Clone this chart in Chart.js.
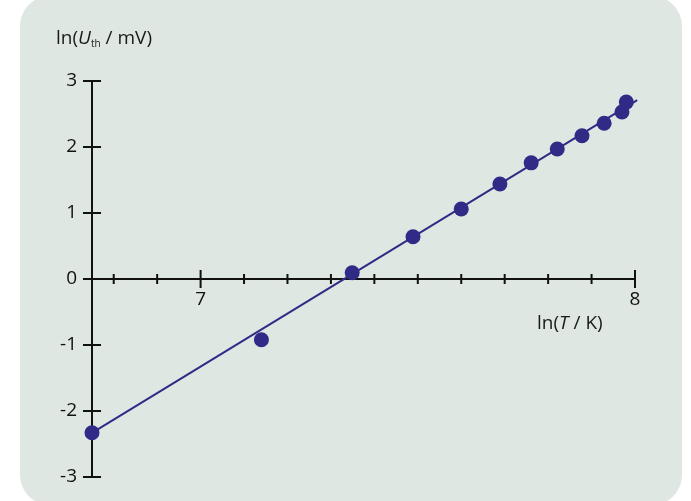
<!DOCTYPE html>
<html>
<head>
<meta charset="utf-8">
<script src="https://cdn.jsdelivr.net/npm/chart.js@4.4.1/dist/chart.umd.min.js"></script>
<style>
  body { margin: 0; background: #fff; font-family: "Open Sans", sans-serif; }
  #wrap { position: relative; width: 691px; height: 501px; overflow: hidden; }
  #panel {
    position: absolute; left: 20px; top: -4px; width: 662px; height: 509px;
    background: #dee7e2; border-radius: 30px;
  }
  #plot { position: absolute; left: 0; top: 0; }
  .axis-title { position: absolute; font-size: 19px; color: #1a1a1a; white-space: nowrap; line-height: 1; }
  .axis-title sub { font-size: 10px; vertical-align: -3px; }
  #ytitle { left: 56px; top: 28px; }
  #xtitle { left: 537px; top: 313px; }
</style>
</head>
<body>
<div id="wrap">
  <div id="panel"></div>
  <canvas id="plot" width="691" height="501"></canvas>
  <div class="axis-title" id="ytitle">ln(<i>U</i><sub>th</sub> / mV)</div>
  <div class="axis-title" id="xtitle">ln(<i>T</i> / K)</div>
</div>
<script>
// measured points: ln(T / K) against ln(U_th / mV)
const lnT = [6.75, 7.14, 7.349, 7.489, 7.60, 7.689, 7.761, 7.821, 7.878, 7.929, 7.970, 7.980];
const lnU = [-2.33, -0.92, 0.095, 0.64, 1.06, 1.44, 1.76, 1.97, 2.17, 2.36, 2.53, 2.68];

// straight-line fit, end points
const fitX = [6.75, 8.005];
const fitY = [-2.33, 2.71];

const xLabelTicks = [7, 8];
const yLabelTicks = [-3, -2, -1, 0, 1, 2, 3];
const xMin = 6.75, xMax = 8;
const yMin = -3, yMax = 3;

const ink = '#111';
const dotColor = '#2f2b86';

/** Draws the crossing axes with their tick marks at the data origin */
const crossAxes = {
  id: 'crossAxes',
  beforeDatasetsDraw(chart) {
    const { ctx, scales: { x, y } } = chart;
    const x0 = x.getPixelForValue(xMin);
    const y0 = y.getPixelForValue(0);
    ctx.save();
    ctx.strokeStyle = ink;
    ctx.lineWidth = 2;
    ctx.beginPath();
    // vertical axis
    ctx.moveTo(x0, y.getPixelForValue(yMax));
    ctx.lineTo(x0, y.getPixelForValue(yMin));
    // horizontal axis
    ctx.moveTo(x0, y0);
    ctx.lineTo(x.getPixelForValue(xMax), y0);
    yLabelTicks.forEach(v => {
      const py = y.getPixelForValue(v);
      ctx.moveTo(x0 - 9, py);
      ctx.lineTo(x0 + 9, py);
    });
    // minor ticks every 0.1, long ones at the whole numbers
    for (let i = 68; i <= 80; i++) {
      const v = i / 10;
      const px = x.getPixelForValue(v);
      const len = (i % 10 === 0) ? 9 : 5;
      ctx.moveTo(px, y0 - len);
      ctx.lineTo(px, y0 + len);
    }
    ctx.stroke();
    ctx.restore();
  }
};

const font = { family: '"Open Sans", sans-serif', size: 19 };

new Chart(document.getElementById('plot'), {
  type: 'scatter',
  data: {
    datasets: [
      {
        type: 'line',
        data: fitX.map((v, i) => ({ x: v, y: fitY[i] })),
        borderColor: dotColor,
        borderWidth: 2,
        pointRadius: 0,
        clip: false
      },
      {
        data: lnT.map((v, i) => ({ x: v, y: lnU[i] })),
        backgroundColor: dotColor,
        borderWidth: 0,
        pointRadius: 7.5,
        clip: false
      }
    ]
  },
  options: {
    responsive: false,
    animation: false,
    layout: { padding: { left: 0, right: 56, top: 81, bottom: 24 } },
    plugins: { legend: { display: false }, tooltip: { enabled: false } },
    scales: {
      x: {
        type: 'linear',
        min: xMin,
        max: xMax,
        position: { y: 0 },
        border: { display: false },
        grid: { display: false, drawTicks: false },
        afterBuildTicks: s => { s.ticks = xLabelTicks.map(v => ({ value: v })); },
        ticks: { color: ink, font, padding: 9, maxRotation: 0, autoSkip: false }
      },
      y: {
        type: 'linear',
        min: yMin,
        max: yMax,
        position: 'left',
        border: { display: false },
        grid: { display: false, drawTicks: false },
        afterBuildTicks: s => { s.ticks = yLabelTicks.map(v => ({ value: v })); },
        // fixed gutter; the end labels should not push the plot area in
        afterFit: s => { s.width = 92; s.paddingTop = 0; s.paddingBottom = 0; },
        ticks: { color: ink, font, padding: 15 }
      }
    }
  },
  plugins: [crossAxes]
});
</script>
</body>
</html>
